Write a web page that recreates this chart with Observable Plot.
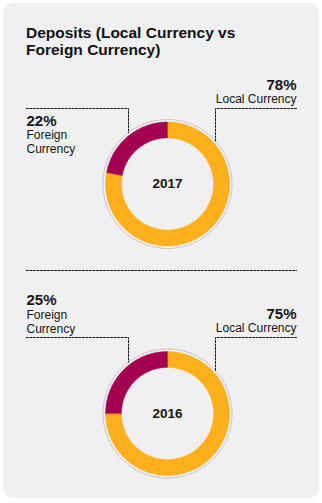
<!DOCTYPE html>
<html>
<head>
<meta charset="utf-8">
<script src="https://cdn.jsdelivr.net/npm/d3@7"></script>
<script src="https://cdn.jsdelivr.net/npm/@observablehq/plot@0.6"></script>
<style>
  html, body { margin: 0; padding: 0; background: #ffffff; }
  body { width: 322px; height: 503px; position: relative; overflow: hidden;
         font-family: "Liberation Sans", Arial, Helvetica, sans-serif; }
  #card { position: absolute; left: 3px; top: 3px; width: 316px; height: 495px;
          background: #f0f0f2; border-radius: 10px; }
  #title { position: absolute; left: 26px; top: 23.5px; font-size: 15.5px; font-weight: bold;
           line-height: 17.3px; color: #111; }
  #chart { position: absolute; left: 0; top: 0; }
</style>
</head>
<body>
<div id="card"></div>
<div id="title">Deposits (Local Currency vs<br>Foreign Currency)</div>
<div id="chart"></div>
<script>
// ---- data ----
const title = "Deposits (Local Currency vs Foreign Currency)";
const years = ["2017", "2016"];
const categories = ["Local Currency", "Foreign Currency"];
const localShare = [78, 75];
const foreignShare = [22, 25];
const foreignLabel = ["Foreign", "Currency"];

// ---- layout ----
const W = 322, H = 503;
const cx = 167;
const centersY = [183.5, 413];
const rOuter = 62, rInner = 46, rGuide = 64.5;
const leftX = 26, rightX = 296;
const leaderLeftX = 128, leaderRightX = 215;
const leaderOffset = 76;          // leader line above donut center
const dividerY = 270;
const foreignBelow = [true, false]; // 2017 label sits under its leader, 2016 above
const ORANGE = "#FDB01B", MAGENTA = "#A3004F", INK = "#151515";
const DASH = "2,1.5";

// donut polygons from d3.pie
const pie = d3.pie().sort(null).value(d => d.value);
const arcRows = [];
years.forEach((yr, i) => {
  const cy = centersY[i];
  const slices = pie([
    {cat: categories[0], value: localShare[i]},
    {cat: categories[1], value: foreignShare[i]}
  ]);
  slices.forEach(s => {
    const n = Math.max(8, Math.ceil((s.endAngle - s.startAngle) / 0.01));
    const pts = [];
    for (let k = 0; k <= n; k++) {
      const a = s.startAngle + (s.endAngle - s.startAngle) * k / n;
      pts.push([cx + rOuter * Math.sin(a), cy - rOuter * Math.cos(a)]);
    }
    for (let k = n; k >= 0; k--) {
      const a = s.startAngle + (s.endAngle - s.startAngle) * k / n;
      pts.push([cx + rInner * Math.sin(a), cy - rInner * Math.cos(a)]);
    }
    pts.forEach(([x, y]) => arcRows.push({key: yr + s.data.cat, cat: s.data.cat, x, y}));
  });
});

// leader lines
const leaderRows = [];
const leaderYs = centersY.map(cy => Math.round(cy - leaderOffset));
years.forEach((yr, i) => {
  const cy = centersY[i];
  const ly = leaderYs[i];
  const dl = leaderLeftX - cx, dr = leaderRightX - cx;
  const endL = cy - Math.sqrt(rGuide * rGuide - dl * dl);
  const endR = cy - Math.sqrt(rGuide * rGuide - dr * dr);
  [[leftX, ly], [leaderLeftX, ly], [leaderLeftX, endL]].forEach(([x, y]) => leaderRows.push({key: yr + "L", x, y}));
  [[rightX, ly], [leaderRightX, ly], [leaderRightX, endR]].forEach(([x, y]) => leaderRows.push({key: yr + "R", x, y}));
});
leaderRows.push({key: "div", x: leftX, y: dividerY}, {key: "div", x: rightX, y: dividerY});

// text rows (y = baseline)
const pctSize = 15, lblSize = 12, lh = 14;
const pctLeft = [], pctRight = [], lblLeft = [], lblRight = [], yearRows = [];
years.forEach((yr, i) => {
  const cy = centersY[i];
  const ly = leaderYs[i];
  const b0 = foreignBelow[i] ? ly + 17 : ly - 32.5;
  pctLeft.push({x: leftX, y: b0, text: foreignShare[i] + "%"});
  foreignLabel.forEach((t, j) => lblLeft.push({x: leftX, y: b0 + 13.8 + j * lh, text: t}));
  pctRight.push({x: rightX, y: ly - 18.6, text: localShare[i] + "%"});
  lblRight.push({x: rightX, y: ly - 5.8, text: categories[0]});
  yearRows.push({x: cx, y: cy, text: yr});
});

const pctOpts = anchor => ({x: "x", y: d => d.y - 0.32 * pctSize, text: "text", textAnchor: anchor, fontSize: pctSize, fontWeight: "bold", fill: INK});
const lblOpts = anchor => ({x: "x", y: d => d.y - 0.32 * lblSize, text: "text", textAnchor: anchor, fontSize: lblSize, fill: INK});

const chart = Plot.plot({
  width: W, height: H,
  margin: 0,
  x: {type: "identity", axis: null},
  y: {type: "identity", axis: null},
  color: {domain: categories, range: [ORANGE, MAGENTA]},
  style: {background: "transparent", fontFamily: "'Liberation Sans', Arial, sans-serif", overflow: "visible"},
  marks: [
    Plot.dot(yearRows, {x: "x", y: "y", r: rGuide, fill: "none", stroke: "#8a8a8a", strokeWidth: 0.7, strokeDasharray: "1.2,0.8"}),
    Plot.line(arcRows, {x: "x", y: "y", z: "key", fill: "cat", stroke: "cat", strokeWidth: 0.4, curve: "linear-closed"}),
    Plot.line(leaderRows, {x: "x", y: "y", z: "key", stroke: INK, strokeWidth: 1, strokeDasharray: DASH}),
    Plot.text(pctLeft, pctOpts("start")),
    Plot.text(pctRight, pctOpts("end")),
    Plot.text(lblLeft, lblOpts("start")),
    Plot.text(lblRight, lblOpts("end")),
    Plot.text(yearRows, {x: "x", y: "y", text: "text", fontSize: 13.5, fontWeight: "bold", fill: INK})
  ]
});
document.getElementById("chart").appendChild(chart);
</script>
</body>
</html>
